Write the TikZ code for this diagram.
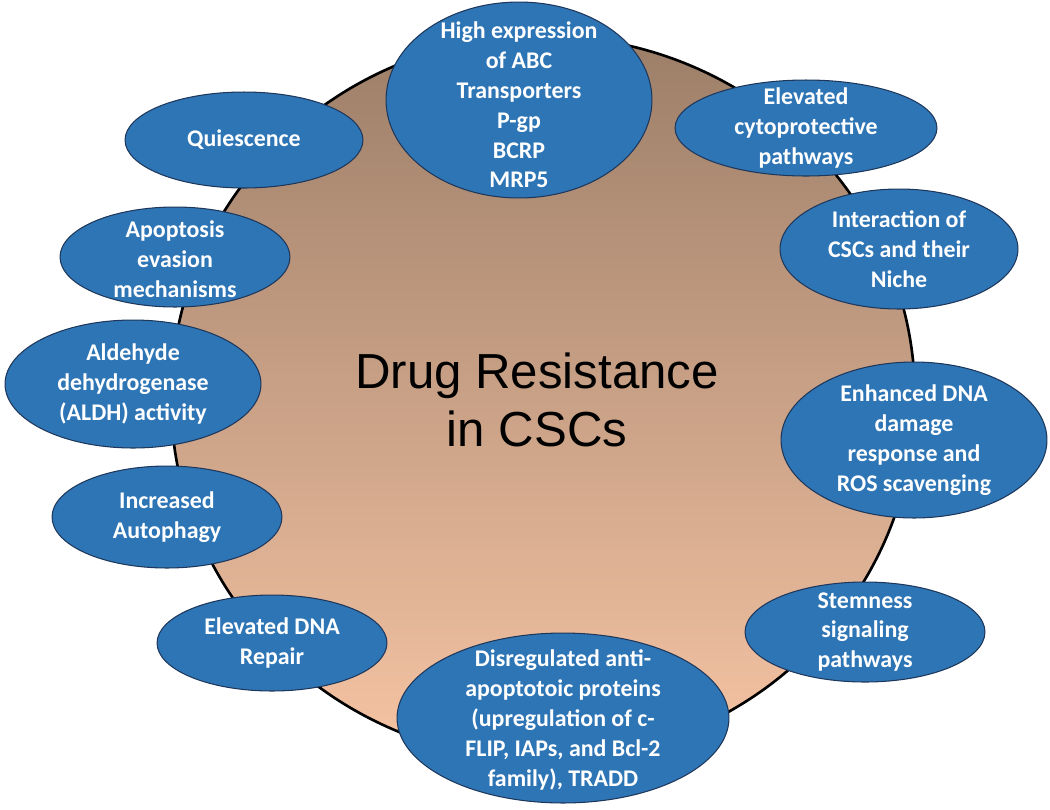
\documentclass[tikz,border=0pt]{standalone}
\usepackage{fontspec}
\usetikzlibrary{shapes.geometric}
\newfontfamily\calibrifont{Carlito}
\newfontfamily\arialfont{Liberation Sans}
\definecolor{blobblue}{RGB}{46,117,182}
\definecolor{blobedge}{RGB}{30,55,90}
\definecolor{coretop}{RGB}{156,126,104}
\definecolor{corebottom}{RGB}{246,196,164}

\tikzset{
    core/.style={ellipse, draw=black, line width=1.5pt, top color=coretop, bottom color=corebottom,
        minimum width=744*0.02cm, minimum height=724*0.02cm, inner sep=0pt},
    blob/.style 2 args={ellipse, draw=blobedge, line width=0.6pt, fill=blobblue,
        minimum width=#1*0.04cm, minimum height=#2*0.04cm, inner sep=0pt},
    blobtext/.style={text=white, align=center, inner sep=0pt,
        font=\calibrifont\bfseries\fontsize{13.6}{17}\selectfont},
    title/.style={align=center, font=\arialfont\fontsize{28}{33}\selectfont}
}

\begin{document}
\begin{tikzpicture}[x=0.02cm, y=-0.02cm]
    \useasboundingbox (0,0) rectangle (1050,809);

    % centre
    \node[core] (drug) at (543,398) {};
    \node[title] (drugtext) at (537,400) {Drug Resistance\\in CSCs};

    % mechanisms round the circle
    \node[blob={133}{98}] (abc) at (519,100) {};
    \node[blobtext] (abctext) at (519,105) {High expression\\of ABC\\Transporters\\P-gp\\BCRP\\MRP5};

    \node[blob={131}{48}] (cyto) at (806,128) {};
    \node[blobtext] (cytotext) at (cyto) {Elevated\\cytoprotective\\pathways};

    \node[blob={119}{60}] (niche) at (899,249) {};
    \node[blobtext] (nichetext) at (niche) {Interaction of\\CSCs and their\\Niche};

    \node[blob={133}{78}] (ddr) at (914,440) {};
    \node[blobtext] (ddrtext) at (ddr) {Enhanced DNA\\damage\\response and\\ROS scavenging};

    \node[blob={120}{50}] (stem) at (865,632) {};
    \node[blobtext] (stemtext) at (stem) {Stemness\\signaling\\pathways};

    \node[blob={166}{85}] (antiapop) at (563,718) {};
    \node[blobtext] (antiapoptext) at (563,720) {Disregulated anti-\\apoptotoic proteins\\(upregulation of c-\\FLIP, IAPs, and Bcl-2\\family), TRADD};

    \node[blob={115}{48}] (repair) at (272,643) {};
    \node[blobtext] (repairtext) at (repair) {Elevated DNA\\Repair};

    \node[blob={115}{51}] (autoph) at (167,517) {};
    \node[blobtext] (autophtext) at (autoph) {Increased\\Autophagy};

    \node[blob={128}{64}] (aldh) at (133,384) {};
    \node[blobtext] (aldhtext) at (aldh) {Aldehyde\\dehydrogenase\\(ALDH) activity};

    \node[blob={115}{50}] (apop) at (175,257) {};
    \node[blobtext] (apoptext) at (175,259) {Apoptosis\\evasion\\mechanisms};

    \node[blob={119}{48}] (quies) at (244,140) {};
    \node[blobtext] (quiestext) at (quies) {Quiescence};
\end{tikzpicture}
\end{document}
